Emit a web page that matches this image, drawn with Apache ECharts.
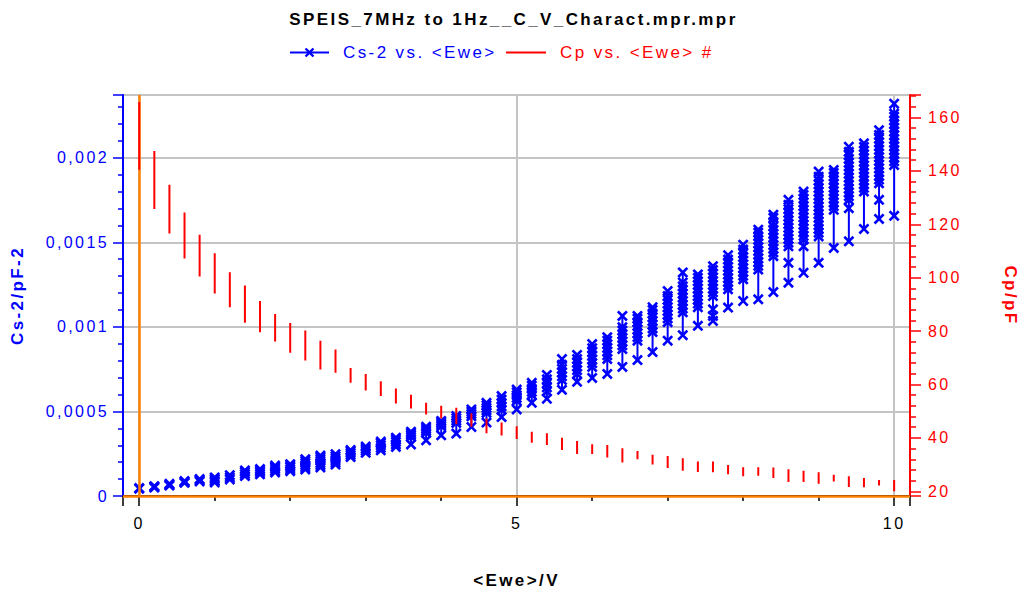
<!DOCTYPE html>
<html>
<head>
<meta charset="utf-8">
<script src="https://cdn.jsdelivr.net/npm/echarts/dist/echarts.min.js"></script>
<style>
html,body{margin:0;padding:0;background:#fff;overflow:hidden;}
#chart{width:1027px;height:594px;}
#chart text{letter-spacing:2.4px;}
</style>
</head>
<body>
<div id="chart"></div>
<script>
// Potential steps <Ewe> (V)
const ewe = [0,0.2,0.4,0.6,0.8,1.0,1.2,1.4,1.6,1.8,2.0,2.2,2.4,2.6,2.8,3.0,3.2,3.4,3.6,3.8,4.0,4.2,4.4,4.6,4.8,5.0,5.2,5.4,5.6,5.8,6.0,6.2,6.4,6.6,6.8,7.0,7.2,7.4,7.6,7.8,8.0,8.2,8.4,8.6,8.8,9.0,9.2,9.4,9.6,9.8,10.0];

// Cp (pF): upper and lower end of the frequency sweep at each step
const cpHigh = [165.8,147.4,134.8,124.4,116.1,109.1,102.0,97.1,91.3,86.4,83.0,80.2,76.4,73.1,66.2,63.9,61.2,58.5,56.2,53.2,52.0,51.3,49.2,47.3,45.8,44.4,42.3,41.7,40.1,38.8,37.6,37.3,36.1,35.1,33.7,33.2,32.4,31.2,31.2,29.9,29.0,29.0,28.9,28.3,27.7,27.1,26.2,25.6,25.0,24.2,24.2];
const cpLow  = [140.4,125.7,116.5,107.2,100.4,94.1,88.9,83.1,79.6,76.1,71.9,69.0,65.6,64.4,60.7,57.8,55.7,52.9,51.0,48.8,47.3,45.1,44.2,41.7,40.9,39.6,38.2,37.3,35.5,34.0,34.0,32.7,30.8,32.0,30.0,28.7,27.7,27.2,27.1,26.4,25.6,25.8,25.0,23.5,23.5,22.8,23.7,21.6,21.5,22.2,20.0];

// Cs-2 (pF-2): points of the frequency sweep at each step
const csInv2 = [
 [0.43e-4,0.47e-4],
 [0.50e-4,0.55e-4,0.58e-4],
 [0.62e-4,0.67e-4,0.72e-4],
 [0.78e-4,0.83e-4,0.88e-4],
 [0.86e-4,0.93e-4,1.0e-4],
 [0.80e-4,0.90e-4,1.0e-4,1.1e-4],
 [0.98e-4,1.1e-4,1.23e-4],
 [1.18e-4,1.3e-4,1.42e-4,1.51e-4],
 [1.28e-4,1.4e-4,1.5e-4,1.59e-4],
 [1.39e-4,1.5e-4,1.62e-4,1.72e-4,1.8e-4],
 [1.47e-4,1.58e-4,1.7e-4,1.8e-4,1.88e-4],
 [1.57e-4,1.7e-4,1.82e-4,1.95e-4,2.07e-4,2.18e-4],
 [1.69e-4,1.82e-4,1.95e-4,2.08e-4,2.2e-4,2.32e-4,2.39e-4],
 [1.86e-4,1.98e-4,2.1e-4,2.22e-4,2.35e-4,2.47e-4],
 [2.3e-4,2.42e-4,2.54e-4,2.64e-4,2.72e-4],
 [2.55e-4,2.68e-4,2.8e-4,2.92e-4],
 [2.7e-4,2.85e-4,3.0e-4,3.12e-4,3.22e-4],
 [2.9e-4,3.05e-4,3.2e-4,3.33e-4,3.45e-4],
 [3.05e-4,3.5e-4,3.6e-4,3.7e-4,3.8e-4],
 [3.29e-4,3.75e-4,3.87e-4,3.99e-4,4.1e-4],
 [3.59e-4,4.12e-4,4.23e-4,4.34e-4,4.44e-4],
 [3.69e-4,4.32e-4,4.46e-4,4.6e-4,4.73e-4],
 [4.08e-4,4.71e-4,4.85e-4,4.99e-4,5.12e-4],
 [4.34e-4,4.91e-4,5.06e-4,5.21e-4,5.36e-4,5.51e-4],
 [4.67e-4,5.1e-4,5.3e-4,5.5e-4,5.7e-4,5.91e-4],
 [5.12e-4,5.63e-4,5.8e-4,5.96e-4,6.13e-4,6.29e-4],
 [5.51e-4,5.98e-4,6.16e-4,6.34e-4,6.52e-4,6.69e-4],
 [5.75e-4,6.18e-4,6.42e-4,6.66e-4,6.9e-4,7.16e-4],
 [6.28e-4,6.86e-4,7.08e-4,7.3e-4,7.52e-4,7.76e-4,8.1e-4],
 [6.75e-4,7.22e-4,7.44e-4,7.66e-4,7.88e-4,8.1e-4,8.34e-4],
 [6.98e-4,7.63e-4,7.85e-4,8.07e-4,8.29e-4,8.51e-4,8.74e-4,8.98e-4],
 [7.22e-4,8.1e-4,8.32e-4,8.54e-4,8.76e-4,8.98e-4,9.18e-4,9.39e-4],
 [7.63e-4,8.69e-4,8.91e-4,9.13e-4,9.35e-4,9.57e-4,9.78e-4,9.98e-4,10.65e-4],
 [8.04e-4,9.18e-4,9.4e-4,9.62e-4,9.84e-4,10.06e-4,10.28e-4,10.48e-4,10.65e-4],
 [8.51e-4,9.69e-4,9.91e-4,10.13e-4,10.35e-4,10.57e-4,10.79e-4,11.0e-4,11.16e-4],
 [9.18e-4,10.28e-4,10.5e-4,10.72e-4,10.94e-4,11.16e-4,11.38e-4,11.6e-4,11.82e-4,12.12e-4],
 [9.51e-4,10.86e-4,11.08e-4,11.3e-4,11.52e-4,11.74e-4,11.96e-4,12.18e-4,12.4e-4,12.63e-4,13.22e-4],
 [10.06e-4,11.16e-4,11.38e-4,11.6e-4,11.82e-4,12.04e-4,12.26e-4,12.48e-4,12.7e-4,12.9e-4,13.1e-4],
 [10.35e-4,10.65e-4,11.04e-4,11.82e-4,12.04e-4,12.26e-4,12.48e-4,12.7e-4,12.92e-4,13.14e-4,13.36e-4,13.59e-4],
 [11.14e-4,12.22e-4,12.44e-4,12.66e-4,12.88e-4,13.1e-4,13.32e-4,13.54e-4,13.76e-4,13.98e-4,14.24e-4],
 [11.53e-4,12.81e-4,13.03e-4,13.25e-4,13.47e-4,13.69e-4,13.91e-4,14.13e-4,14.35e-4,14.57e-4,14.86e-4],
 [11.63e-4,13.39e-4,13.61e-4,13.83e-4,14.05e-4,14.27e-4,14.49e-4,14.71e-4,14.93e-4,15.15e-4,15.37e-4,15.57e-4,15.75e-4],
 [12.06e-4,14.18e-4,14.4e-4,14.62e-4,14.84e-4,15.06e-4,15.28e-4,15.5e-4,15.72e-4,15.94e-4,16.16e-4,16.45e-4,16.63e-4],
 [12.61e-4,13.79e-4,14.76e-4,14.98e-4,15.2e-4,15.42e-4,15.64e-4,15.86e-4,16.08e-4,16.3e-4,16.52e-4,16.74e-4,16.96e-4,17.22e-4,17.51e-4],
 [13.2e-4,14.76e-4,15.16e-4,15.38e-4,15.6e-4,15.82e-4,16.04e-4,16.26e-4,16.48e-4,16.7e-4,16.92e-4,17.14e-4,17.36e-4,17.58e-4,17.8e-4,18.0e-4],
 [13.79e-4,15.35e-4,15.57e-4,15.79e-4,16.01e-4,16.23e-4,16.45e-4,16.67e-4,16.89e-4,17.11e-4,17.33e-4,17.55e-4,17.77e-4,17.99e-4,18.21e-4,18.43e-4,18.65e-4,18.88e-4,19.18e-4],
 [14.67e-4,16.92e-4,17.14e-4,17.36e-4,17.58e-4,17.8e-4,18.02e-4,18.24e-4,18.46e-4,18.68e-4,18.9e-4,19.1e-4,19.28e-4],
 [15.06e-4,17.02e-4,17.51e-4,17.73e-4,17.95e-4,18.17e-4,18.39e-4,18.61e-4,18.83e-4,19.05e-4,19.27e-4,19.49e-4,19.71e-4,19.93e-4,20.15e-4,20.35e-4,20.65e-4],
 [15.79e-4,18.0e-4,18.22e-4,18.44e-4,18.66e-4,18.88e-4,19.1e-4,19.32e-4,19.54e-4,19.76e-4,19.98e-4,20.2e-4,20.42e-4,20.64e-4,20.85e-4],
 [16.38e-4,17.51e-4,18.49e-4,18.71e-4,18.93e-4,19.15e-4,19.37e-4,19.59e-4,19.81e-4,20.03e-4,20.25e-4,20.47e-4,20.69e-4,20.91e-4,21.13e-4,21.35e-4,21.63e-4],
 [16.57e-4,19.57e-4,19.79e-4,20.01e-4,20.23e-4,20.45e-4,20.67e-4,20.89e-4,21.11e-4,21.33e-4,21.55e-4,21.77e-4,21.99e-4,22.21e-4,22.43e-4,22.61e-4,23.2e-4]
];

const titleText = 'SPEIS_7MHz to 1Hz__C_V_Charact.mpr.mpr';
const seriesNames = ['Cs-2 vs. <Ewe>', 'Cp vs. <Ewe> #'];
const axisNames = {x: '<Ewe>/V', left: 'Cs-2/pF-2', right: 'Cp/pF'};

// Build line data (each potential step is a separate vertical trace)
const blueData = [];
const redData = [];
ewe.forEach((x, i) => {
  csInv2[i].forEach(v => blueData.push([x, v]));
  blueData.push([x, null]);
  redData.push([x, cpHigh[i]]);
  redData.push([x, cpLow[i]]);
  redData.push([x, null]);
});

const FONT = '"Liberation Sans", Arial, sans-serif';
const XSYM = 'path://M0,1.7L1.7,0L5,3.3L8.3,0L10,1.7L6.7,5L10,8.3L8.3,10L5,6.7L1.7,10L0,8.3L3.3,5Z';
const BLUE = '#0000ff', RED = '#ff0000', ORANGE = '#ff8000', GRID = '#c4c4c4';

const chart = echarts.init(document.getElementById('chart'), null, {renderer: 'svg'});
chart.setOption({
  animation: false,
  backgroundColor: '#fff',
  title: {
    text: titleText, left: 'center', top: 6,
    textStyle: {fontFamily: FONT, fontSize: 17, fontWeight: 'bold', color: '#000'}
  },
  legend: [
    {
      left: 284, top: 39, itemWidth: 39, itemHeight: 12,
      data: [{name: seriesNames[0], textStyle: {color: BLUE}}],
      textStyle: {fontFamily: FONT, fontSize: 17, padding: [0, 0, 0, 9]}
    },
    {
      left: 501, top: 39, itemWidth: 40, itemHeight: 2,
      data: [{name: seriesNames[1], icon: 'rect', textStyle: {color: RED}}],
      textStyle: {fontFamily: FONT, fontSize: 17, padding: [0, 0, 0, 9]}
    }
  ],
  grid: {left: 123, right: 114, top: 95, bottom: 96, containLabel: false},
  xAxis: {
    type: 'value', min: -0.215, max: 10.21, splitNumber: 2,
    name: axisNames.x, nameLocation: 'middle', nameGap: 76,
    nameTextStyle: {fontFamily: FONT, fontSize: 17, fontWeight: 'bold', color: '#000'},
    axisLine: {show: true, onZero: false, lineStyle: {color: '#000', width: 2}},
    axisTick: {show: true, length: 10, lineStyle: {color: '#000', width: 1.5}},
    minorTick: {show: true, splitNumber: 5, length: 5, lineStyle: {color: '#000', width: 1.5}},
    axisLabel: {show: true, showMinLabel: false, showMaxLabel: false, margin: 19,
      fontFamily: FONT, fontSize: 16, color: '#000'},
    splitLine: {show: true, lineStyle: {color: GRID, width: 2}}
  },
  yAxis: [
    {
      type: 'value', position: 'left', min: 0, max: 0.002371, interval: 0.0005,
      name: axisNames.left, nameLocation: 'middle', nameGap: 97, nameRotate: 90,
      nameTextStyle: {fontFamily: FONT, fontSize: 17, fontWeight: 'bold', color: BLUE},
      axisLine: {show: true, onZero: false, lineStyle: {color: BLUE, width: 2}},
      axisTick: {show: true, length: 10, lineStyle: {color: BLUE, width: 1.5}},
      minorTick: {show: true, splitNumber: 5, length: 5, lineStyle: {color: BLUE, width: 1.5}},
      axisLabel: {show: true, showMaxLabel: false, margin: 14, fontFamily: FONT, fontSize: 16, color: BLUE,
        formatter: v => String(v).replace('.', ',')},
      splitLine: {show: true, lineStyle: {color: GRID, width: 2}}
    },
    {
      type: 'value', position: 'right', min: 18.25, max: 168.4, splitNumber: 7,
      name: axisNames.right, nameLocation: 'middle', nameGap: 92, nameRotate: -90,
      nameTextStyle: {fontFamily: FONT, fontSize: 17, fontWeight: 'bold', color: RED},
      axisLine: {show: true, onZero: false, lineStyle: {color: RED, width: 2}},
      axisTick: {show: true, length: 11, lineStyle: {color: RED, width: 1.5}},
      minorTick: {show: true, splitNumber: 5, length: 6, lineStyle: {color: RED, width: 1.5}},
      axisLabel: {show: true, showMinLabel: false, showMaxLabel: false, margin: 18,
        fontFamily: FONT, fontSize: 16, color: RED},
      splitLine: {show: false}
    }
  ],
  series: [
    {
      name: seriesNames[0], type: 'line', xAxisIndex: 0, yAxisIndex: 0,
      data: blueData, connectNulls: false, showAllSymbol: true,
      symbol: XSYM, symbolSize: 11, symbolKeepAspect: true,
      itemStyle: {color: BLUE},
      lineStyle: {color: BLUE, width: 2},
      emphasis: {disabled: true},
      markLine: {
        silent: true, symbol: 'none', label: {show: false}, z: 3,
        lineStyle: {color: ORANGE, width: 2.5, type: 'solid'},
        data: [{xAxis: 0}, {yAxis: 0}]
      },
      z: 2
    },
    {
      name: seriesNames[1], type: 'line', xAxisIndex: 0, yAxisIndex: 1,
      data: redData, connectNulls: false, symbol: 'none',
      itemStyle: {color: RED},
      lineStyle: {color: RED, width: 2},
      emphasis: {disabled: true},
      z: 4
    }
  ]
});
</script>
</body>
</html>
